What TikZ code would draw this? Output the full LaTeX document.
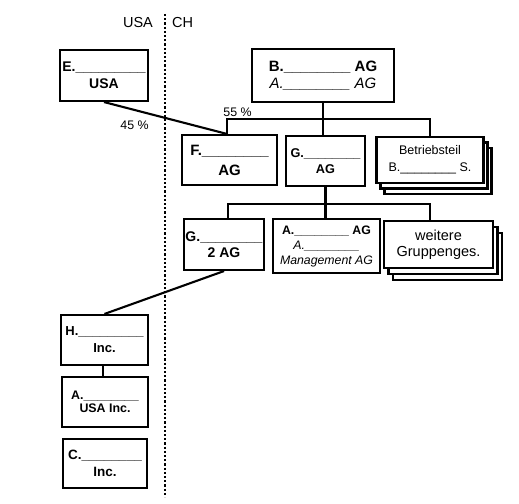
\documentclass[tikz,border=0pt]{standalone}
\usepackage{fontspec}
\setmainfont{Liberation Sans}
\usetikzlibrary{calc}
\newcommand\fs[2]{\fontsize{#1}{#2}\selectfont}
\begin{document}
\begin{tikzpicture}[x=1pt,y=-1pt,
  box/.style={draw,line width=2.1pt,fill=white,inner sep=0pt,align=center},
  conn/.style={line width=2.1pt},
  divider/.style={line width=2pt,dash pattern=on 2.2pt off 2pt},
  lbl/.style={inner sep=0pt}]
\useasboundingbox (0,0) rectangle (519,503);
% header and divider
\node[lbl,font=\fs{14.5}{17}] (usa) at (138,23) {USA};
\node[lbl,font=\fs{14.5}{17}] (ch) at (182.5,23) {CH};
\coordinate (dtop) at (164.5,14);
\coordinate (dbot) at (164.5,497);
\draw[divider] (dtop) -- (dbot);
% top row
\node[box,minimum width=88pt,minimum height=51pt,font=\bfseries\fs{14}{17}] (E) at (104,75.5)
  {E.\_\_\_\_\_\_\_\_\_\\USA};
\node[box,minimum width=142pt,minimum height=53pt,font=\fs{15}{17}] (B) at (323,75.5)
  {\textbf{B.\_\_\_\_\_\_\_\_ AG}\\\textit{A.\_\_\_\_\_\_\_\_ AG}};
% second row
\node[box,minimum width=95pt,minimum height=50pt,font=\bfseries\fs{15}{20}] (F) at (229.5,160)
  {F.\_\_\_\_\_\_\_\_\\AG};
\node[box,minimum width=79pt,minimum height=50pt,font=\bfseries\fs{12.7}{15.5}] (G) at (325.5,161)
  {G.\_\_\_\_\_\_\_\_\\AG};
\node[box,minimum width=107pt,minimum height=46pt] (Bt3) at (438,171) {};
\node[box,minimum width=107pt,minimum height=46pt] (Bt2) at (434,165.5) {};
\node[box,minimum width=107pt,minimum height=46pt,font=\fs{12.5}{17}] (Bt) at (430,160)
  {Betriebsteil\\B.\_\_\_\_\_\_\_\_ S.};
% third row
\node[box,minimum width=80pt,minimum height=51pt,font=\bfseries\fs{14}{15.5}] (G2) at (224,244.5)
  {G.\_\_\_\_\_\_\_\_\\2 AG};
\node[box,minimum width=107pt,minimum height=54pt,font=\fs{12.3}{15}] (Am) at (326.5,246)
  {\textbf{A.\_\_\_\_\_\_\_\_ AG}\\\textit{A.\_\_\_\_\_\_\_\_}\\\textit{Management AG}};
\node[box,minimum width=109pt,minimum height=47pt] (W3) at (447.5,256.5) {};
\node[box,minimum width=109pt,minimum height=47pt] (W2) at (443,250.5) {};
\node[box,minimum width=109pt,minimum height=47pt,font=\fs{14.5}{16}] (W) at (438.5,244.5)
  {weitere\\Gruppenges.};
% USA column
\node[box,minimum width=87pt,minimum height=50pt,font=\bfseries\fs{13}{17}] (H) at (104.5,340)
  {H.\_\_\_\_\_\_\_\_\_\\Inc.};
\node[box,minimum width=86pt,minimum height=50pt,font=\bfseries\fs{12.4}{13.5}] (AU) at (105,402)
  {A.\_\_\_\_\_\_\_\_\\USA Inc.};
\node[box,minimum width=84pt,minimum height=49pt,font=\bfseries\fs{13.5}{16.5}] (C) at (105,463.5)
  {C.\_\_\_\_\_\_\_\_\\Inc.};
% connectors
\coordinate (bus1) at (323,119);
\coordinate (bus2) at (324,204);
\draw[conn] (B.south) -- (bus1);
\draw[conn] ($(F.north)+(-2.5,0)$) |- (bus1) -| (Bt.north);
\draw[conn] (bus1) -- (bus1 |- G.north);
\draw[conn] (E.south) -- ($(F.north)+(-2.5,0)$);
\draw[conn] (G.south) -- (G.south |- Am.north);
\draw[conn] ($(G2.north)+(4,0)$) |- (bus2) -| ($(W.north)+(-8.5,0)$);
\draw[conn] (G2.south) -- (H.north);
\draw[conn] ($(H.south)+(-1.5,0)$) -- ($(AU.north)+(-2,0)$);
% percentages
\node[lbl,font=\fs{12.4}{14}] (p55) at (237.5,112) {55 \%};
\node[lbl,font=\fs{12.4}{14}] (p45) at (134.5,125) {45 \%};
\end{tikzpicture}
\end{document}
